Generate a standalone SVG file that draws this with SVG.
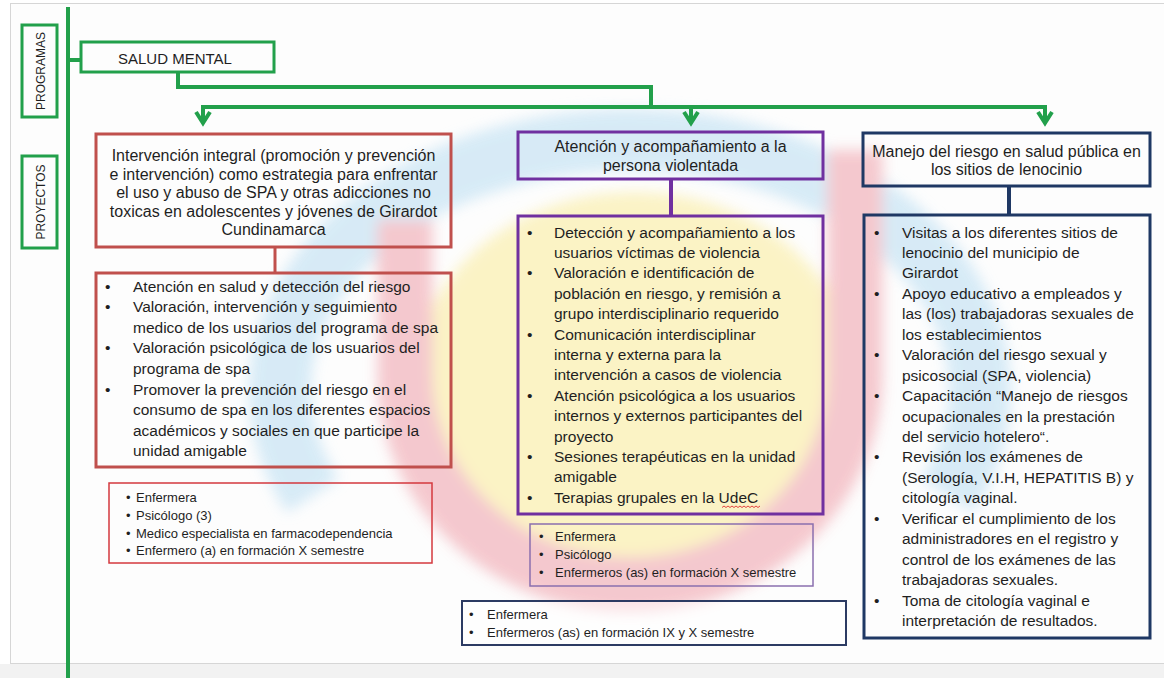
<svg xmlns="http://www.w3.org/2000/svg" width="1164" height="678" viewBox="0 0 1164 678">
<defs>
<style>
text{font-family:"Liberation Sans",Arial,sans-serif;fill:#1f1f1f}
.h{font-size:16px;text-anchor:middle}
.b{font-size:15.5px}
.s{font-size:13px}
.side{font-size:12px;text-anchor:middle}
.sm{font-size:15px}
.g{fill:#fff;fill-opacity:0.2;stroke:#22a04b;stroke-width:3}
.red{fill:none;stroke:#c0504d;stroke-width:3}
.pur{fill:none;stroke:#7030a0;stroke-width:3}
.nav{fill:none;stroke:#1f3864;stroke-width:3}
.gl{fill:none;stroke:#22a04b;stroke-width:4}
</style>
<marker id="ag" markerUnits="userSpaceOnUse" orient="auto-start-reverse" refX="0" refY="0" markerWidth="20" markerHeight="20" overflow="visible">
<path d="M-11,-7 L0,0 L-11,7" fill="none" stroke="#22a04b" stroke-width="4" stroke-linejoin="miter"/>
</marker>
<filter id="soft" x="-10%" y="-10%" width="120%" height="120%">
<feGaussianBlur stdDeviation="7"/>
</filter>
</defs>
<rect x="0" y="0" width="1164" height="678" fill="#ffffff"/>
<rect x="10.5" y="3.5" width="1160" height="660" fill="#fdfdfd" stroke="#d6d6d6" stroke-width="1"/>
<rect x="0" y="664" width="1164" height="14" fill="#f2f2f2"/>
<g id="watermark" opacity="0.9" filter="url(#soft)">
<path d="M312.8,495.7 A350,250 0 1 1 947.2,495.7" fill="none" stroke="#d3e9f6" stroke-width="62"/>
<ellipse cx="635" cy="380" rx="220" ry="188" fill="#fbf2c0"/>
<path d="M405,220 V375 A225,210 0 0 0 855,375 V150" fill="none" stroke="#f4c3c9" stroke-width="55"/>
</g>
<g id="connectors">
<path class="gl" d="M68,7 V678"/>
<path class="gl" d="M68,60 H81"/>
<path class="gl" d="M178,72 V87 H651 V107"/>
<path class="gl" d="M203,123 V107 H1045 V123" marker-start="url(#ag)" marker-end="url(#ag)"/>
<path class="gl" d="M691,107 V123" marker-end="url(#ag)"/>
<path d="M275,247 V273" stroke="#c0504d" stroke-width="3" fill="none"/>
<path d="M671,179 V216" stroke="#7030a0" stroke-width="4" fill="none"/>
<path d="M1009,186 V215" stroke="#1f3864" stroke-width="4" fill="none"/>
</g>
<g id="programas">
<rect class="g" x="22" y="25" width="35" height="92"/>
<text class="side" transform="translate(44.5,71) rotate(-90)">PROGRAMAS</text>
</g>
<g id="proyectos">
<rect class="g" x="22" y="156" width="35" height="92"/>
<text class="side" transform="translate(44.5,202) rotate(-90)">PROYECTOS</text>
</g>
<g id="salud-mental">
<rect class="g" x="81" y="42" width="193" height="30"/>
<text class="sm" x="118" y="64">SALUD MENTAL</text>
</g>
<g id="proyecto-spa">
<rect class="red" x="96" y="134" width="355" height="113"/>
<text class="h" x="273.5" y="161">Intervención integral (promoción y prevención</text>
<text class="h" x="273.5" y="179.5">e intervención) como estrategia para enfrentar</text>
<text class="h" x="273.5" y="198">el uso y abuso de SPA y otras adicciones no</text>
<text class="h" x="273.5" y="216.5">toxicas en adolescentes y jóvenes de Girardot</text>
<text class="h" x="273.5" y="235">Cundinamarca</text>
</g>
<g id="actividades-spa">
<rect class="red" x="96" y="273" width="355" height="194"/>
<text class="b" x="105" y="291.5">•</text><text class="b" x="133" y="291.5">Atención en salud y detección del riesgo</text>
<text class="b" x="105" y="312.1">•</text><text class="b" x="133" y="312.1">Valoración, intervención y seguimiento</text>
<text class="b" x="133" y="332.7">medico de los usuarios del programa de spa</text>
<text class="b" x="105" y="353.3">•</text><text class="b" x="133" y="353.3">Valoración psicológica de los usuarios del</text>
<text class="b" x="133" y="373.9">programa de spa</text>
<text class="b" x="105" y="394.5">•</text><text class="b" x="133" y="394.5">Promover la prevención del riesgo en el</text>
<text class="b" x="133" y="415.1">consumo de spa en los diferentes espacios</text>
<text class="b" x="133" y="435.7">académicos y sociales en que participe la</text>
<text class="b" x="133" y="456.3">unidad amigable</text>
</g>
<g id="personal-spa">
<rect x="109" y="483" width="323" height="80" fill="none" stroke="#d4393e" stroke-width="1.5"/>
<text class="s" x="126" y="502">•</text><text class="s" x="136" y="502">Enfermera</text>
<text class="s" x="126" y="520">•</text><text class="s" x="136" y="520">Psicólogo (3)</text>
<text class="s" x="126" y="537.5">•</text><text class="s" x="136" y="537.5">Medico especialista en farmacodependencia</text>
<text class="s" x="126" y="555">•</text><text class="s" x="136" y="555">Enfermero (a) en formación X semestre</text>
</g>
<g id="proyecto-violencia">
<rect class="pur" x="518" y="132" width="305" height="47"/>
<text class="h" x="670.5" y="152">Atención y acompañamiento a la</text>
<text class="h" x="670.5" y="171">persona violentada</text>
</g>
<g id="actividades-violencia">
<rect class="pur" x="518" y="216" width="305" height="298"/>
<text class="b" x="527" y="237.5">•</text><text class="b" x="554" y="237.5">Detección y acompañamiento a los</text>
<text class="b" x="554" y="257.9">usuarios víctimas de violencia</text>
<text class="b" x="527" y="278.3">•</text><text class="b" x="554" y="278.3">Valoración e identificación de</text>
<text class="b" x="554" y="298.7">población en riesgo, y remisión a</text>
<text class="b" x="554" y="319.1">grupo interdisciplinario requerido</text>
<text class="b" x="527" y="339.5">•</text><text class="b" x="554" y="339.5">Comunicación interdisciplinar</text>
<text class="b" x="554" y="359.9">interna y externa para la</text>
<text class="b" x="554" y="380.3">intervención a casos de violencia</text>
<text class="b" x="527" y="400.7">•</text><text class="b" x="554" y="400.7">Atención psicológica a los usuarios</text>
<text class="b" x="554" y="421.1">internos y externos participantes del</text>
<text class="b" x="554" y="441.5">proyecto</text>
<text class="b" x="527" y="461.9">•</text><text class="b" x="554" y="461.9">Sesiones terapéuticas en la unidad</text>
<text class="b" x="554" y="482.3">amigable</text>
<text class="b" x="527" y="502.7">•</text><text class="b" x="554" y="502.7">Terapias grupales en la UdeC</text>
<path d="M722,507.5 l2,-1.5 l2,1.5 l2,-1.5 l2,1.5 l2,-1.5 l2,1.5 l2,-1.5 l2,1.5 l2,-1.5 l2,1.5 l2,-1.5 l2,1.5 l2,-1.5 l2,1.5 l2,-1.5 l2,1.5 l2,-1.5 l2,1.5 l2,-1.5" fill="none" stroke="#e03030" stroke-width="0.9"/>
</g>
<g id="personal-violencia">
<rect x="530" y="524" width="283" height="62" fill="none" stroke="#8a6fae" stroke-width="1.5"/>
<text class="s" x="539" y="541">•</text><text class="s" x="555" y="541">Enfermera</text>
<text class="s" x="539" y="559">•</text><text class="s" x="555" y="559">Psicólogo</text>
<text class="s" x="539" y="577">•</text><text class="s" x="555" y="577">Enfermeros (as) en formación X semestre</text>
</g>
<g id="personal-lenocinio">
<rect x="462" y="601" width="384" height="44" fill="#ffffff" fill-opacity="0.5" stroke="#2c3b63" stroke-width="2"/>
<text class="s" x="469" y="619">•</text><text class="s" x="487" y="619">Enfermera</text>
<text class="s" x="469" y="636.5">•</text><text class="s" x="487" y="636.5">Enfermeros (as) en formación IX y X semestre</text>
</g>
<g id="proyecto-lenocinio">
<rect class="nav" x="863" y="133" width="287" height="53"/>
<text class="h" x="1006.5" y="157">Manejo del riesgo en salud pública en</text>
<text class="h" x="1006.5" y="175">los sitios de lenocinio</text>
</g>
<g id="actividades-lenocinio">
<rect class="nav" x="864" y="215" width="286" height="423"/>
<text class="b" x="874" y="237.5">•</text><text class="b" x="902" y="237.5">Visitas a los diferentes sitios de</text>
<text class="b" x="902" y="257.95">lenocinio del municipio de</text>
<text class="b" x="902" y="278.4">Girardot</text>
<text class="b" x="874" y="298.85">•</text><text class="b" x="902" y="298.85">Apoyo educativo a empleados y</text>
<text class="b" x="902" y="319.3">las (los) trabajadoras sexuales de</text>
<text class="b" x="902" y="339.75">los establecimientos</text>
<text class="b" x="874" y="360.2">•</text><text class="b" x="902" y="360.2">Valoración del riesgo sexual y</text>
<text class="b" x="902" y="380.65">psicosocial (SPA, violencia)</text>
<text class="b" x="874" y="401.1">•</text><text class="b" x="902" y="401.1">Capacitación “Manejo de riesgos</text>
<text class="b" x="902" y="421.55">ocupacionales en la prestación</text>
<text class="b" x="902" y="442">del servicio hotelero“.</text>
<text class="b" x="874" y="462.45">•</text><text class="b" x="902" y="462.45">Revisión los exámenes de</text>
<text class="b" x="902" y="482.9">(Serología, V.I.H, HEPATITIS B) y</text>
<text class="b" x="902" y="503.35">citología vaginal.</text>
<text class="b" x="874" y="523.8">•</text><text class="b" x="902" y="523.8">Verificar el cumplimiento de los</text>
<text class="b" x="902" y="544.25">administradores en el registro y</text>
<text class="b" x="902" y="564.7">control de los exámenes de las</text>
<text class="b" x="902" y="585.15">trabajadoras sexuales.</text>
<text class="b" x="874" y="605.6">•</text><text class="b" x="902" y="605.6">Toma de citología vaginal  e</text>
<text class="b" x="902" y="626.05">interpretación de resultados.</text>
</g>
</svg>
